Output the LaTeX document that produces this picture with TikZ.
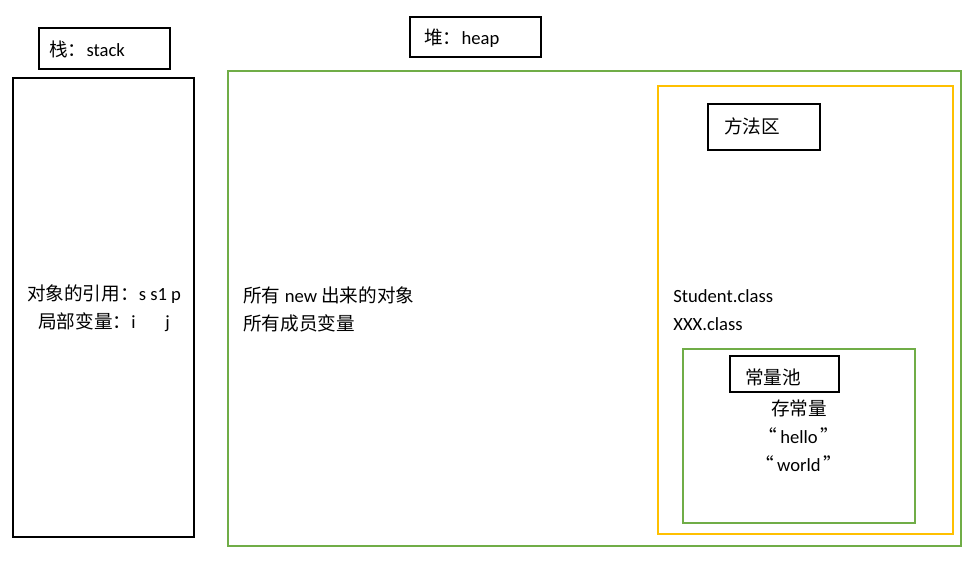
\documentclass[tikz,border=0pt]{standalone}
\usepackage{fontspec}
\setmainfont{Carlito}
\newfontfamily\cjk{Noto Sans CJK SC}
\usetikzlibrary{positioning}
\definecolor{poolgreen}{HTML}{70AD47}
\definecolor{methodgold}{HTML}{FFC000}
\tikzset{
  frame/.style={draw=black, line width=1.1pt},
  greenframe/.style={draw=poolgreen, line width=1.1pt},
  goldframe/.style={draw=methodgold, line width=1.1pt},
  lbl/.style={inner sep=0pt, font=\fontsize{10.6}{15.9}\selectfont},
}
\newcommand{\openq}{{\cjk “}\hspace{0.15em}}
\newcommand{\closeq}{\hspace{0.15em}{\cjk ”}}

\begin{document}
\begin{tikzpicture}[x=0.02cm, y=-0.02cm]
\useasboundingbox (0,0) rectangle (978,569);
% Stack
\draw[frame] (13,78) rectangle (194,537);
\draw[frame] (39,28) rectangle (170,69);
\node[lbl, anchor=west] (stacktag) at (49,49) {{\cjk 栈：}stack};
\node[lbl, align=center] (stacktext) at (104,308)
  {{\cjk 对象的引用：}s s1 p\\{\cjk 局部变量：}i\hspace{1.6em}j};
% Heap
\draw[greenframe] (228,71) rectangle (961,546);
\draw[frame] (410,17) rectangle (541,57);
\node[lbl, anchor=west] (heaptag) at (424,38) {{\cjk 堆：}heap};
\node[lbl, anchor=west, align=left] (heaptext) at (243,309)
  {{\cjk 所有} new {\cjk 出来的对象}\\{\cjk 所有成员变量}};
% Method area
\draw[goldframe] (658,86) rectangle (953,534);
\draw[frame] (708,104) rectangle (820,150);
\node[lbl, anchor=west] (methodtag) at (724,126) {\cjk 方法区};
\node[lbl, anchor=west, align=left] (classes) at (673,310)
  {Student.class\\XXX.class};
% Constant pool
\draw[greenframe] (683,349) rectangle (915,523);
\draw[frame] (730,356) rectangle (839,392);
\node[lbl, anchor=west] (pooltag) at (745,377) {\cjk 常量池};
\node[lbl, align=center] (pooltext) at (799,436)
  {{\cjk 存常量}\\\openq hello\closeq\\\openq world\closeq};
\end{tikzpicture}
\end{document}
